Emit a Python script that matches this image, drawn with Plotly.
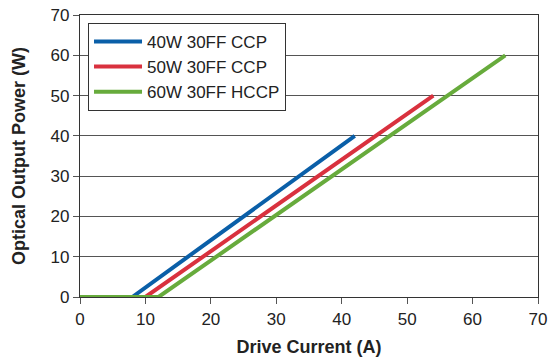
import plotly.graph_objects as go

series_names = ["40W 30FF CCP", "50W 30FF CCP", "60W 30FF HCCP"]
current_x = [
    [0, 8, 42],
    [0, 10, 54],
    [0, 12, 65],
]
power_y = [
    [0, 0, 40],
    [0, 0, 50],
    [0, 0, 60],
]
colors = ["#0a5fa8", "#d9313e", "#67ab3c"]
tick_vals = [0, 10, 20, 30, 40, 50, 60, 70]

fig = go.Figure()
for name, xs, ys, c in zip(series_names, current_x, power_y, colors):
    fig.add_trace(go.Scatter(x=xs, y=ys, mode="lines", name=name,
                             line=dict(color=c, width=4)))

axis_common = dict(
    range=[0, 70], tickvals=tick_vals, ticks="outside", ticklen=6,
    tickcolor="#555", showline=True, linecolor="#333", linewidth=1.2,
    mirror=True, zeroline=False, automargin=False, ticklabeloverflow="allow",
    tickfont=dict(family="Liberation Sans, Arial", size=17, color="#222"),
)
fig.update_xaxes(**axis_common, showgrid=False,
                 title=dict(text="<b>Drive Current (A)</b>", standoff=12,
                            font=dict(family="Liberation Sans, Arial", size=18, color="#222")))
fig.update_yaxes(**axis_common, showgrid=True, gridcolor="#555", gridwidth=1,
                 title=dict(text="<b>Optical Output Power (W)</b>", standoff=20,
                            font=dict(family="Liberation Sans, Arial", size=18, color="#222")))

fig.update_layout(
    width=548, height=360,
    margin=dict(l=80, r=10, t=15, b=63),
    plot_bgcolor="white", paper_bgcolor="white",
    legend=dict(x=0.0175, y=0.972, xanchor="left", yanchor="top",
                bgcolor="white", bordercolor="#333", borderwidth=1,
                font=dict(family="Liberation Sans, Arial", size=17, color="#222"),
                itemwidth=48),
    showlegend=True,
)

fig.write_html(
    "out.html",
    config={"displayModeBar": False},
    post_script="document.body.style.margin='0';document.body.style.overflow='hidden';",
)
